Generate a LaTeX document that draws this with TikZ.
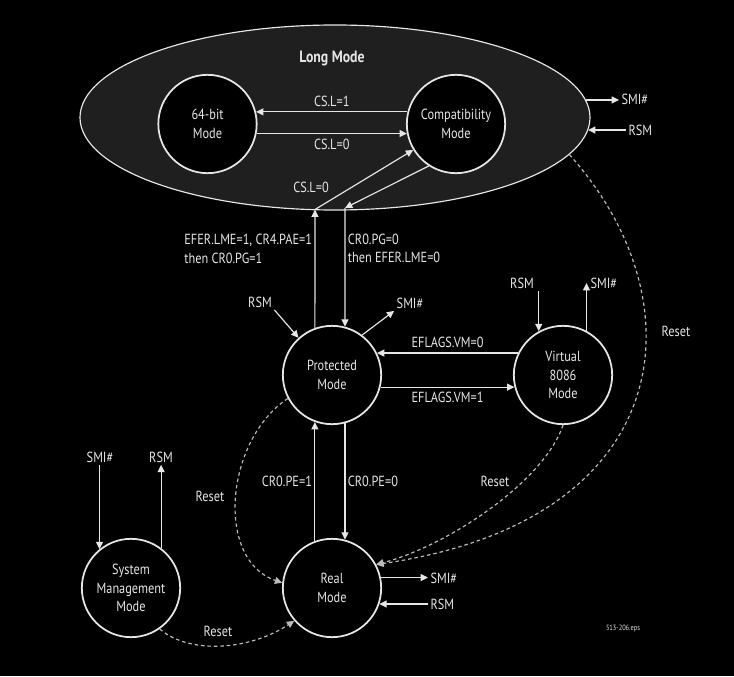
\documentclass[tikz,border=0pt]{standalone}
\usepackage{fontspec}
\setmainfont{PT Sans}[FakeStretch=0.84]
\usetikzlibrary{arrows.meta, positioning, shapes.geometric}
\definecolor{fg}{HTML}{E6E6E6}
\definecolor{lmfill}{HTML}{1F1F1F}
\definecolor{rstc}{HTML}{BBBBBB}

\begin{document}
\begin{tikzpicture}[x=0.03cm, y=-0.03cm, >={Triangle[length=2.2mm, width=2.1mm]},
      md/.style={draw=fg, circle, fill=black, minimum size=2.95cm, line width=1.5pt,
                 text=fg, align=center, inner sep=0pt, font=\fontsize{12.5}{16}\selectfont},
      lbl/.style={text=fg, inner sep=2pt, align=left, font=\fontsize{12.5}{16}\selectfont},
      tr/.style={->, draw=fg, line width=1pt},
      rst/.style={->, draw=rstc, line width=1pt, dash pattern=on 3pt off 2.5pt}]

    % black backdrop, also fixes the page size
    \fill[black] (0,0) rectangle (734,676);

    % Long mode: big ellipse round its two sub-modes
    \node[ellipse, draw=fg, fill=lmfill, line width=1pt,
          minimum width=15.3cm, minimum height=5.55cm] (lm) at (335,117.5) {};
    \node[text=fg, font=\bfseries\fontsize{14}{16}\selectfont] (lmt) at (332,58) {Long Mode};

    \node[md] (bm) at (207.5,124) {64-bit\\Mode};
    \node[md] (cm) at (456,124)   {Compatibility\\Mode};

    % Legacy modes
    \node[md] (pm) at (332,375) {Protected\\Mode};
    \node[md] (vm) at (563,375) {Virtual\\8086\\Mode};
    \node[md] (rm) at (332,588) {Real\\Mode};
    \node[md] (sm) at (131,588) {System\\Management\\Mode};

    % 64-bit <-> Compatibility
    \draw[tr] (cm.166) -- node[lbl, above=2pt] (csl1) {CS.L=1} (bm.14);
    \draw[tr] (bm.-11.5) -- node[lbl, below=2pt] (csl0) {CS.L=0} (cm.191.5);

    % Protected <-> Long, with a corner on the ellipse
    \coordinate (lc) at (315,209.5);
    \coordinate (rc) at (345,208);
    \draw[tr] (pm.110) -- node[lbl, left, pos=0.67] (lmeon)
        {EFER.LME=1, CR4.PAE=1\\then CR0.PG=1} (lc);
    \draw[tr] (lc) -- (cm);
    \node[lbl] (cslin) at (311,187) {CS.L=0};
    \draw[tr] (cm.237) -- (rc);
    \draw[tr] (rc) -- node[lbl, right, pos=0.34] (lmeoff)
        {CR0.PG=0\\then EFER.LME=0} (pm.75);

    % Protected <-> Virtual 8086
    \draw[tr] (vm.154) -- node[lbl, above=2pt] (vmoff) {EFLAGS.VM=0} (pm.26);
    \draw[tr] (pm.-14) -- node[lbl, below=2pt] (vmon) {EFLAGS.VM=1} (vm.194);

    % Protected <-> Real
    \draw[tr] (rm.110) -- node[lbl, left] (peon) {CR0.PE=1} (pm.250);
    \draw[tr] (pm.285) -- node[lbl, right] (peoff) {CR0.PE=0} (rm.75);

    % SMI# / RSM stubs
    \node[lbl, anchor=west] (lsmi) at (619,99)  {SMI\#};
    \node[lbl, anchor=west] (lrsm) at (626,130) {RSM};
    \draw[tr] (lm.4) -- (lm.4 -| lsmi.west);
    \draw[tr] (lrsm.west) -- (lrsm.west -| lm.-3);

    \node[lbl] (prsm) at (260,302) {RSM};
    \node[lbl] (psmi) at (410,303) {SMI\#};
    \draw[tr] (prsm.south east) -- (pm.132);
    \draw[tr] (pm.53) -- (psmi.south west);

    \node[lbl] (vrsm) at (522,283) {RSM};
    \node[lbl, anchor=west] (vsmi) at (588,283) {SMI\#};
    \draw[tr] (vrsm.south -| vm.119) -- (vm.119);
    \draw[tr] (vm.62) -- (vm.62 |- vsmi.west);

    \node[lbl, anchor=west] (rsmi) at (428,578) {SMI\#};
    \node[lbl, anchor=west] (rrsm) at (428,604) {RSM};
    \draw[tr] (rm.12) -- (rm.12 -| rsmi.west);
    \draw[tr] (rrsm.west) -- (rrsm.west -| rm.-19);

    \node[lbl] (ssmi) at (100,457) {SMI\#};
    \node[lbl] (srsm) at (161,457) {RSM};
    \draw[tr] (ssmi.south -| sm.129) -- (sm.129);
    \draw[tr] (sm.53) -- (sm.53 |- srsm.south);

    % Reset paths, all ending in Real mode
    \draw[rst] (pm.208) .. controls (225,440) and (215,560) .. (rm.174);
    \node[lbl] (rst1) at (210,496) {Reset};
    \draw[rst] (sm.305) .. controls (190,655) and (250,650) .. (rm.221);
    \node[lbl] (rst2) at (218,631) {Reset};
    \draw[rst] (vm.270) .. controls (545,480) and (450,545) .. (rm.28);
    \node[lbl] (rst3) at (495,481) {Reset};
    \draw[rst] (lm.-9) .. controls (700,300) and (680,520) .. (rm.28);
    \node[lbl] (rst4) at (676,331) {Reset};

    \node[text=fg, font=\fontsize{6.5}{7}\selectfont] (fname) at (623,629) {513-206.eps};

\end{tikzpicture}
\end{document}
